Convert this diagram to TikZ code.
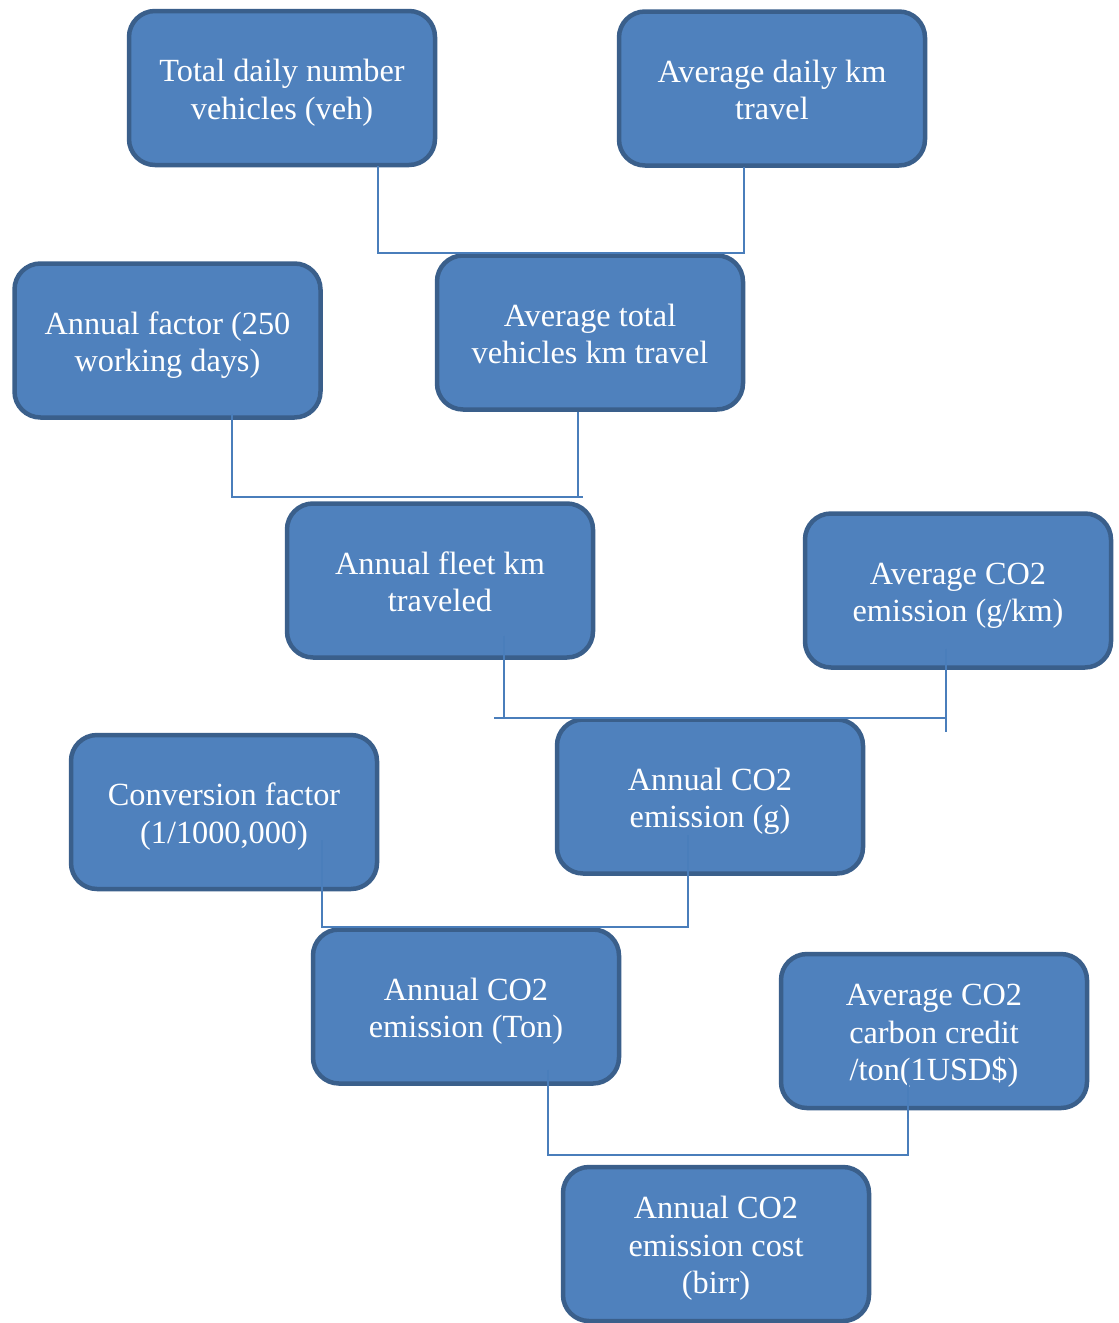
\documentclass[tikz,border=0pt]{standalone}
\usepackage{fontspec}
\setmainfont{Liberation Serif}
\usetikzlibrary{calc}
\definecolor{boxfill}{HTML}{4F81BD}
\definecolor{boxline}{HTML}{3A5F8B}
\definecolor{connline}{HTML}{4A7EBB}
\tikzset{
  stepbox/.style={draw=boxline, fill=boxfill, line width=4.5pt, rounded corners=26pt,
    minimum width=306pt, minimum height=154pt, align=center, text=white,
    font=\fontsize{32.3}{37.5}\selectfont, inner sep=0pt,
    text height=62pt, text depth=0pt},
  stepboxthree/.style={stepbox, text height=99.5pt},
  conn/.style={draw=connline, line width=1.6pt}
}
\begin{document}
\begin{tikzpicture}[x=1pt,y=-1pt]
\useasboundingbox[fill=white] (0,0) rectangle (1119,1323);
\node[stepbox] (b1) at (282,88) {Total daily number\\vehicles (veh)};
\node[stepbox] (b2) at (772,88.5) {Average daily km\\travel};
\node[stepbox] (b3) at (167.5,340.5) {Annual factor (250\\working days)};
\node[stepbox] (b4) at (590,332.5) {Average total\\vehicles km travel};
\node[stepbox] (b5) at (440,580.5) {Annual fleet km\\traveled};
\node[stepbox] (b6) at (958,590.5) {Average CO2\\emission (g/km)};
\node[stepbox] (b7) at (224,812) {Conversion factor\\(1/1000,000)};
\node[stepbox] (b8) at (710,796.5) {Annual CO2\\emission (g)};
\node[stepbox] (b9) at (466,1006.5) {Annual CO2\\emission (Ton)};
\node[stepboxthree] (b10) at (934,1031) {Average CO2\\carbon credit\\/ton(1USD\$)};
\node[stepboxthree] (b11) at (716,1244) {Annual CO2\\emission cost\\(birr)};
% connector end points
\coordinate (p1) at ($(b1.south)+(96,-1)$);
\coordinate (p2) at ($(b2.south)+(-28,-1)$);
\coordinate (p3) at ($(b3.south)+(64.5,-6)$);
\coordinate (p4) at ($(b4.south)+(-12,0)$);
\coordinate (p5) at ($(b5.center)+(64,55)$);
\coordinate (p6) at ($(b6.center)+(-12,58)$);
\coordinate (p7) at ($(b7.center)+(98,28)$);
\coordinate (p8) at ($(b8.center)+(-22,38)$);
\coordinate (p9) at ($(b9.center)+(82,63)$);
\coordinate (p10) at ($(b10.center)+(-26,52)$);
\draw[conn] (p1) -- (p1 |- 0,253) -- (p2 |- 0,253) -- (p2);
\draw[conn] (p3) -- (p3 |- 0,497) -- (583,497);
\draw[conn] (p4) -- (p4 |- 0,497);
\draw[conn] (p5) -- (p5 |- 0,718);
\draw[conn] (494,718) -- (p6 |- 0,718);
\draw[conn] (p6) -- (p6 |- 0,732);
\draw[conn] (p7) -- (p7 |- 0,927) -- (p8 |- 0,927) -- (p8);
\draw[conn] (p9) -- (p9 |- 0,1155) -- (p10 |- 0,1155) -- (p10);
\end{tikzpicture}
\end{document}
